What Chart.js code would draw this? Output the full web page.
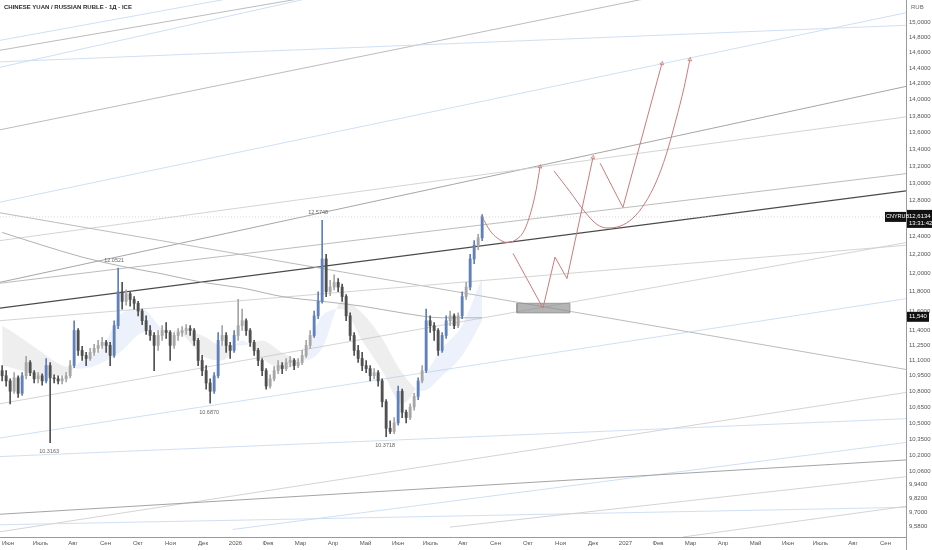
<!DOCTYPE html>
<html><head><meta charset="utf-8">
<script src="https://cdn.jsdelivr.net/npm/chart.js@4.4.1/dist/chart.umd.min.js"></script>
<style>html,body{margin:0;padding:0;background:#fff;overflow:hidden}canvas{display:block}</style>
</head><body>
<canvas id="c" width="932" height="550" style="width:932px;height:550px"></canvas>
<script>
// ---------- DATA ----------
const monthLabels = ['Июн','Июль','Авг','Сен','Окт','Ноя','Дек','2026','Фев','Мар','Апр','Май','Июн','Июль','Авг','Сен','Окт','Ноя','Дек','2027','Фев','Мар','Апр','Май','Июн','Июль','Авг','Сен'];
const yTickValues = [15,14.8,14.6,14.4,14.2,14,13.8,13.6,13.4,13.2,13,12.8,12.4,12.2,12,11.8,11.6,11.4,11.25,11.1,10.95,10.8,10.65,10.5,10.35,10.2,10.06,9.94,9.82,9.7,9.58];

const opens = [11.00,10.95,10.90,10.80,10.93,10.78,10.95,11.08,10.98,10.92,10.95,10.90,11.05,10.93,10.92,10.90,10.92,10.95,11.05,11.40,
11.20,11.15,11.12,11.18,11.22,11.25,11.28,11.25,11.15,11.45,11.80,11.70,11.78,11.72,11.68,11.60,11.50,11.40,11.35,11.25,
11.35,11.40,11.38,11.25,11.35,11.38,11.40,11.42,11.40,11.30,11.10,11.00,10.88,10.80,10.95,11.30,11.35,11.25,11.20,11.35,
11.45,11.50,11.40,11.28,11.20,11.10,11.00,10.85,10.92,11.00,11.05,11.02,11.08,11.10,11.05,11.08,11.15,11.25,11.35,11.55,
11.70,12.15,11.80,11.85,11.90,11.85,11.75,11.55,11.35,11.20,11.12,11.05,11.02,10.95,10.98,10.90,10.70,10.45,10.42,10.50,
10.80,10.60,10.55,10.65,10.75,10.90,11.00,11.50,11.45,11.40,11.20,11.35,11.50,11.55,11.45,11.55,11.75,11.85,12.15,12.30,12.38];
const highs = [11.05,11.00,10.92,10.98,10.95,10.98,11.14,11.10,11.00,10.98,10.97,11.12,11.08,10.96,10.95,10.95,10.98,11.10,11.50,11.42,
11.24,11.18,11.22,11.26,11.30,11.33,11.30,11.28,11.50,12.0521,11.90,11.82,11.80,11.75,11.70,11.62,11.55,11.45,11.38,11.40,
11.45,11.48,11.40,11.38,11.42,11.44,11.46,11.45,11.42,11.32,11.15,11.05,10.92,10.98,11.38,11.45,11.38,11.28,11.40,11.72,
11.62,11.52,11.42,11.30,11.22,11.12,11.02,10.96,11.04,11.10,11.08,11.12,11.14,11.12,11.12,11.20,11.30,11.40,11.60,11.80,
12.5748,12.20,11.92,11.98,11.94,11.88,11.77,11.58,11.38,11.25,11.18,11.10,11.05,11.02,11.00,10.92,10.72,10.52,10.55,10.85,
10.82,10.62,10.68,10.78,10.93,11.05,11.62,11.55,11.48,11.42,11.38,11.55,11.60,11.57,11.58,11.80,11.90,12.20,12.35,12.42,12.64];
const lows = [10.90,10.85,10.68,10.78,10.74,10.76,10.92,10.95,10.88,10.88,10.86,10.88,10.3163,10.88,10.87,10.87,10.89,10.93,11.03,11.15,
11.10,11.05,11.10,11.15,11.18,11.22,11.18,11.05,11.13,11.42,11.62,11.66,11.65,11.62,11.55,11.46,11.36,11.30,11.00,11.20,
11.30,11.32,11.10,11.22,11.30,11.34,11.36,11.35,11.25,11.05,10.95,10.82,10.687,10.78,10.93,11.25,11.18,11.12,11.18,11.30,
11.40,11.35,11.24,11.15,11.05,10.95,10.82,10.83,10.90,10.97,10.97,11.00,11.04,11.01,11.03,11.06,11.13,11.22,11.33,11.52,
11.68,11.75,11.76,11.82,11.80,11.70,11.50,11.30,11.15,11.08,11.00,10.98,10.90,10.92,10.85,10.65,10.3718,10.40,10.40,10.48,
10.55,10.50,10.53,10.62,10.72,10.88,10.98,11.38,11.30,11.15,11.18,11.32,11.45,11.42,11.43,11.52,11.72,11.82,12.10,12.25,12.35];
const closes = [10.95,10.90,10.80,10.93,10.78,10.95,11.08,10.98,10.92,10.95,10.90,11.05,10.93,10.92,10.90,10.92,10.95,11.05,11.40,11.20,
11.15,11.12,11.18,11.22,11.25,11.28,11.25,11.15,11.45,11.80,11.70,11.78,11.72,11.68,11.60,11.50,11.40,11.35,11.25,11.35,
11.40,11.38,11.25,11.35,11.38,11.40,11.42,11.40,11.30,11.10,11.00,10.88,10.80,10.95,11.30,11.35,11.25,11.20,11.35,11.45,
11.50,11.40,11.28,11.20,11.10,11.00,10.85,10.92,11.00,11.05,11.02,11.08,11.10,11.05,11.08,11.15,11.25,11.35,11.55,11.70,
12.15,11.80,11.85,11.90,11.85,11.75,11.55,11.35,11.20,11.12,11.05,11.02,10.95,10.98,10.90,10.70,10.45,10.42,10.50,10.80,
10.60,10.55,10.65,10.75,10.90,11.00,11.50,11.45,11.40,11.20,11.35,11.50,11.55,11.45,11.55,11.75,11.85,12.15,12.30,12.38,12.6134];

// moving-average cloud (every 5th bar) and long MA (every 10th bar)
const maFast = [11.05,11.00,10.95,10.95,11.10,11.22,11.58,11.62,11.42,11.36,11.15,11.10,11.30,11.12,11.02,11.12,11.55,11.62,11.30,11.00,10.68,10.92,11.22,11.45,11.95];
const maSlow = [11.45,11.32,11.18,11.05,11.02,11.08,11.20,11.38,11.40,11.40,11.35,11.25,11.25,11.30,11.18,11.10,11.22,11.70,11.58,11.32,10.98,10.80,10.95,11.15,11.50];
const maLong = [12.44,12.30,12.17,12.07,11.99,11.90,11.84,11.75,11.70,11.65,11.58,11.53,11.53];

// trend lines: [month1, price1, month2, price2]
const trendLines = [
  [-0.25,13.63,27.66,16.06],[-0.25,12.78,27.66,15.13],[-0.25,14.48,27.66,14.96],[-0.25,14.76,27.66,17.10],
  [-0.25,14.63,27.66,16.81],[-0.25,14.41,27.66,17.26],[-0.25,11.90,27.66,14.17],[-0.25,12.35,27.66,13.79],
  [-0.25,11.89,27.66,13.11],[-0.25,11.63,27.66,12.91],[-0.25,12.66,27.66,11.01],[-0.25,11.50,27.66,12.30],
  [-0.25,10.68,27.66,12.33],[-0.25,10.36,27.66,11.73],[-0.25,9.53,27.66,10.79],[-0.25,10.19,27.66,10.54],
  [6.92,9.55,27.66,10.32],[-0.25,9.68,27.66,10.16],[-0.25,9.59,27.66,9.74],[13.6,9.57,27.66,10.01],[20.77,9.486,27.66,9.75]
];
const trendKinds = ['gray','blue','blue','blue','gray','blue','mid','light','gray','dark','gray','light','light','blue','light','blue','blue','dgray','blue','light','light'];

// projected paths
const pathA_m = [14.59,14.83,15.05,15.35,15.63,15.88,16.09,16.25,16.37];
const pathA_p = [12.6134,12.46,12.38,12.33,12.36,12.46,12.67,12.92,13.19];
const pathB_m = [15.54,16.46,16.83,17.2,18.0];
const pathB_p = [12.21,11.63,12.17,11.94,13.30];
const pathC_m = [16.8,17.29,17.75,18.12,18.43,18.83,19.23,19.6,19.94,20.25,20.55,20.8,20.98];
const pathC_p = [13.14,12.90,12.67,12.53,12.49,12.51,12.60,12.77,13.01,13.33,13.75,14.15,14.51];
const pathD_m = [18.22,18.92,20.12];
const pathD_p = [13.23,12.72,14.46];

const boxMonths = [15.66,17.29];
const boxPrices = [11.58,11.68];
const levelPrice = 11.54;

const markIdx = [12,29,52,80,96];
const markSide = ['low','high','low','high','low'];

// ---------- BUILD ----------
const candleStartMonth = -0.18, candleStepMonth = 4/32.5;
const cx = i => candleStartMonth + i*candleStepMonth;
const lastClose = closes[closes.length-1];
const candleColor = i => {
  const d = closes[i]-opens[i];
  if (d >= 0.14) return '#5f80b8';
  return d >= 0 ? '#a6a6a6' : '#505050';
};
const kindColor = {gray:'#b4b4b4', blue:'#c9dbf2', mid:'#9c9c9c', light:'#cfcfcf', dark:'#4a4a4a', dgray:'#9a9a9a'};
const red = '#cc7a7a';

const ds = [];
trendLines.forEach((t,k)=>{
  ds.push({type:'line', data:[{x:t[0],y:t[1]},{x:t[2],y:t[3]}], borderColor:kindColor[trendKinds[k]],
    borderWidth: trendKinds[k]==='dark'?1.1:0.9, pointRadius:0, fill:false, tension:0});
});
ds.push({type:'line', data:[{x:-0.25,y:lastClose},{x:27.66,y:lastClose}], borderColor:'#d4d4d4', borderDash:[1,2], borderWidth:1, pointRadius:0, fill:false});
ds.push({type:'line', data:maLong.map((v,k)=>({x:cx(10*k),y:v})), borderColor:'#a8a8a8', borderWidth:0.9, pointRadius:0, fill:false, cubicInterpolationMode:'monotone'});
const slowIndex = ds.length;
ds.push({type:'line', data:maSlow.map((v,j)=>({x:cx(5*j),y:v})), borderColor:'rgba(0,0,0,0)', borderWidth:0, pointRadius:0, fill:false, cubicInterpolationMode:'monotone'});
ds.push({type:'line', data:maFast.map((v,j)=>({x:cx(5*j),y:v})), borderColor:'rgba(0,0,0,0)', borderWidth:0, pointRadius:0, cubicInterpolationMode:'monotone',
  fill:{target:slowIndex, above:'rgba(175,198,240,0.24)', below:'rgba(190,190,190,0.26)'}});
ds.push({type:'bar', data:highs.map((h,i)=>({x:cx(i),y:[lows[i],h]})), backgroundColor:c=>candleColor(c.dataIndex), barThickness:1, grouped:false, borderWidth:0});
ds.push({type:'bar', data:opens.map((o,i)=>({x:cx(i),y:[Math.min(o,closes[i]),Math.max(o,closes[i])]})), backgroundColor:c=>candleColor(c.dataIndex), barThickness:2.2, grouped:false, borderWidth:0, minBarLength:1});
ds.push({type:'line', data:[{x:boxMonths[0],y:boxPrices[0]},{x:boxMonths[1],y:boxPrices[0]},{x:boxMonths[1],y:boxPrices[1]},{x:boxMonths[0],y:boxPrices[1]},{x:boxMonths[0],y:boxPrices[0]}],
  borderColor:'#8f8f8f', borderWidth:0.8, backgroundColor:'rgba(140,140,140,0.65)', fill:'shape', pointRadius:0, tension:0});
const paths = [[pathA_m,pathA_p,true,10],[pathB_m,pathB_p,false,12],[pathC_m,pathC_p,true,12],[pathD_m,pathD_p,false,15]];
paths.forEach(p=>{
  const n = p[0].length;
  ds.push({type:'line', data:p[0].map((m,k)=>({x:m,y:p[1][k]})), borderColor:red, borderWidth:1, fill:false,
    cubicInterpolationMode: p[2]?'monotone':'default', tension:0,
    pointRadius:p[0].map((_,k)=>k===n-1?2.2:0), pointHoverRadius:0, hitRadius:0, pointStyle:'triangle', pointRotation:p[3],
    pointBorderColor:red, pointBackgroundColor:'rgba(0,0,0,0)', pointBorderWidth:0.8});
});
ds.forEach((d,i)=>{ d.order = ds.length - i; });

const fmt = v => v.toFixed(4).replace('.', ',');

const overlay = {
  id:'overlay',
  afterDraw(chart){
    const ctx = chart.ctx, xs = chart.scales.x, ys = chart.scales.y;
    ctx.save();
    ctx.textBaseline = 'middle';
    ctx.fillStyle = '#2a2a2a'; ctx.font = 'bold 6px "Liberation Sans", Arial, sans-serif'; ctx.textAlign='left';
    ctx.fillText('CHINESE YUAN / RUSSIAN RUBLE · 1Д · ICE', 4, 7);
    ctx.fillStyle = '#666'; ctx.font = '6px "Liberation Sans", Arial, sans-serif';
    ctx.fillText('RUB', 911, 7);
    ctx.fillStyle = '#666'; ctx.font = '5.5px "Liberation Sans", Arial, sans-serif'; ctx.textAlign='center';
    markIdx.forEach((i,k)=>{
      const x = xs.getPixelForValue(cx(i));
      if (markSide[k]==='high') ctx.fillText(highs[i].toFixed(4), x-4, ys.getPixelForValue(highs[i]) - 8);
      else ctx.fillText(lows[i].toFixed(4), x-1, ys.getPixelForValue(lows[i]) + 9);
    });
    ctx.strokeStyle = '#9a9a9a'; ctx.lineWidth = 1;
    ctx.beginPath(); ctx.moveTo(906.5, chart.chartArea.bottom); ctx.lineTo(906.5, 550); ctx.stroke();
    const yl = ys.getPixelForValue(levelPrice);
    ctx.fillStyle = '#111'; ctx.fillRect(907, yl-5, 22, 10);
    ctx.fillStyle = '#fff'; ctx.textAlign='left'; ctx.font = '6px "Liberation Sans", Arial, sans-serif';
    ctx.fillText(levelPrice.toFixed(3).replace('.', ','), 909, yl);
    const yp = ys.getPixelForValue(lastClose);
    ctx.fillStyle = '#111'; ctx.fillRect(907, yp-7, 25, 18);
    ctx.fillStyle = '#fff';
    ctx.fillText(fmt(lastClose), 909, yp-1);
    ctx.fillText('13:31:42', 909, yp+6);
    ctx.fillStyle = '#111'; ctx.fillRect(885, yp-5, 21, 10);
    ctx.fillStyle = '#fff'; ctx.font = '5.5px "Liberation Sans", Arial, sans-serif';
    ctx.fillText('CNYRUB', 886, yp);
    ctx.restore();
  }
};

Chart.defaults.font.family = '"Liberation Sans", Arial, sans-serif';
new Chart(document.getElementById('c'), {
  type:'line',
  data:{datasets:ds},
  options:{
    responsive:false, animation:false, events:[],
    layout:{padding:0, autoPadding:false},
    plugins:{legend:{display:false}, tooltip:{enabled:false}},
    scales:{
      x:{type:'linear', min:-0.246, max:27.63, bounds:'data', offset:false,
        grid:{display:false, drawTicks:false}, border:{display:true, color:'#9a9a9a'},
        afterBuildTicks(s){ s.ticks = monthLabels.map((_,i)=>({value:i})); },
        afterFit(s){ s.height = 13; s.paddingLeft = 0; s.paddingRight = 0; },
        ticks:{autoSkip:false, maxRotation:0, padding:3, color:'#555', font:{size:6}, callback:v=>monthLabels[v]}
      },
      y:{type:'logarithmic', position:'right', min:9.486, max:15.30, bounds:'data',
        grid:{display:false, drawTicks:false}, border:{display:true, color:'#9a9a9a'},
        afterBuildTicks(s){ s.ticks = yTickValues.map(v=>({value:v})); },
        afterFit(s){ s.width = 26; s.paddingTop = 0; s.paddingBottom = 0; },
        ticks:{autoSkip:false, padding:3, color:'#555', font:{size:6}, callback:v=>fmt(v)}
      }
    }
  },
  plugins:[overlay]
});
</script>
</body></html>
